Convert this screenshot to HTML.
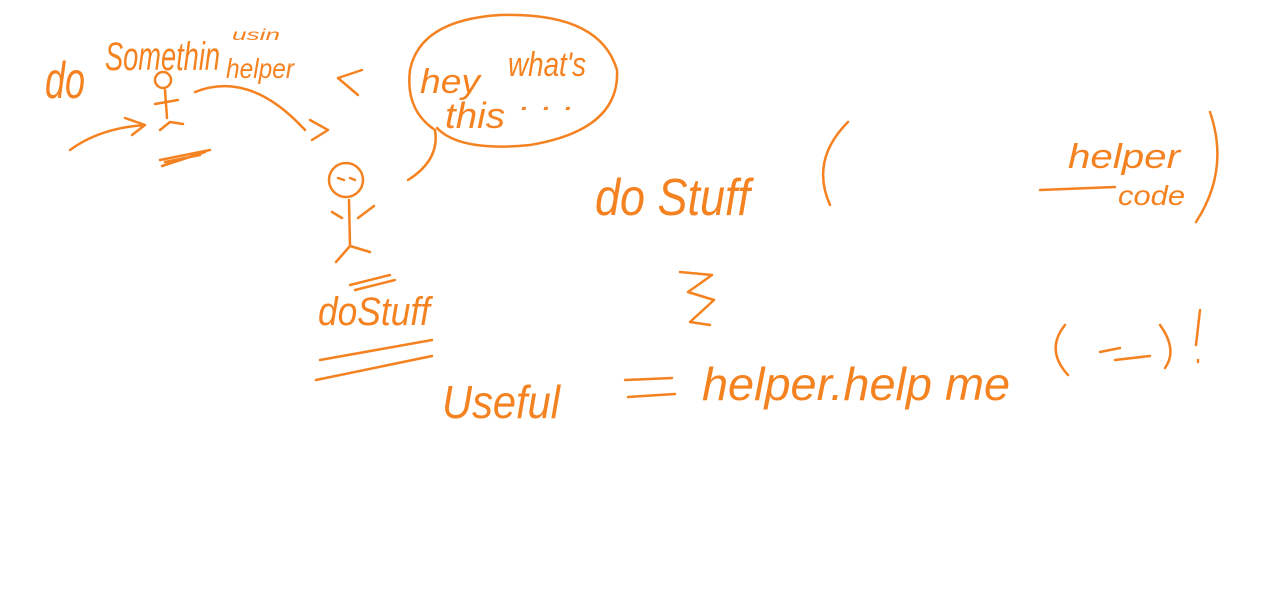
<!DOCTYPE html>
<html><head><meta charset="utf-8"><style>
html,body{margin:0;padding:0;background:#fff;}
svg{display:block;}
text{font-family:"Liberation Sans",sans-serif;fill:#f58220;}
</style></head><body>
<svg width="1268" height="590" viewBox="0 0 1268 590" xmlns="http://www.w3.org/2000/svg">
<g fill="none" stroke="#f58220" stroke-width="2.5" stroke-linecap="round" stroke-linejoin="round">
<circle cx="163" cy="80" r="8"/>
<path d="M165 90 L167 118 M155 104 L178 100 M160 130 L170 122 L183 124"/>
<path d="M70 150 Q100 128 145 125 M125 118 L145 125 L132 135"/>
<path d="M160 160 L210 150 M162 166 L205 152 M165 162 L200 155"/>
<path d="M195 92 Q250 70 305 130 M310 120 L328 130 L312 140"/>
<path d="M358 95 L338 78 L362 70"/>
<path d="M408 180 Q440 160 435 130 Q405 110 410 70 Q420 20 500 15 Q600 12 617 70 Q620 130 530 145 Q460 152 437 128"/>
<circle cx="346" cy="180" r="17"/>
<path d="M338 178 L344 180 M350 178 L355 180 M349 200 L350 245 M332 212 L342 218 M358 218 L374 206 M336 262 L350 246 L370 252"/>
<path d="M320 360 L432 340 M316 380 L432 356"/>
<path d="M350 285 L390 275 M355 290 L395 280"/>
<path d="M848 122 Q810 160 830 205"/>
<path d="M1210 112 Q1230 170 1196 222"/>
<path d="M1040 190 L1115 187"/>
<path d="M680 272 L712 275 L688 292 L714 300 L690 322 L710 325"/>
<path d="M625 380 L672 378 M628 397 L675 394"/>
<path d="M1065 325 Q1045 350 1068 375 M1160 325 Q1178 350 1165 368 M1100 352 L1120 348 M1115 360 L1150 356"/>
<path d="M1200 310 L1196 345 M1198 360 L1198 362"/>
</g>
<text x="45" y="98" font-size="52" font-style="italic" textLength="40" lengthAdjust="spacingAndGlyphs">do</text>
<text x="105" y="70" font-size="40" font-style="italic" textLength="115" lengthAdjust="spacingAndGlyphs">Somethin</text>
<text x="232" y="40" font-size="16" font-style="italic" textLength="48" lengthAdjust="spacingAndGlyphs">usin</text>
<text x="226" y="78" font-size="28" font-style="italic" textLength="68" lengthAdjust="spacingAndGlyphs">helper</text>
<text x="420" y="93" font-size="34" font-style="italic" textLength="60" lengthAdjust="spacingAndGlyphs">hey</text>
<text x="508" y="76" font-size="34" font-style="italic" textLength="78" lengthAdjust="spacingAndGlyphs">what's</text>
<text x="445" y="128" font-size="36" font-style="italic" textLength="60" lengthAdjust="spacingAndGlyphs">this</text>
<text x="520" y="110" font-size="30" font-style="italic" textLength="55" lengthAdjust="spacingAndGlyphs">. . .</text>
<text x="318" y="325" font-size="40" font-style="italic" textLength="112" lengthAdjust="spacingAndGlyphs">doStuff</text>
<text x="595" y="215" font-size="52" font-style="italic" textLength="155" lengthAdjust="spacingAndGlyphs">do Stuff</text>
<text x="1068" y="168" font-size="34" font-style="italic" textLength="112" lengthAdjust="spacingAndGlyphs">helper</text>
<text x="1118" y="205" font-size="28" font-style="italic" textLength="67" lengthAdjust="spacingAndGlyphs">code</text>
<text x="442" y="418" font-size="46" font-style="italic" textLength="118" lengthAdjust="spacingAndGlyphs">Useful</text>
<text x="702" y="400" font-size="46" font-style="italic" textLength="308" lengthAdjust="spacingAndGlyphs">helper.help me</text>
</svg>
</body></html>
